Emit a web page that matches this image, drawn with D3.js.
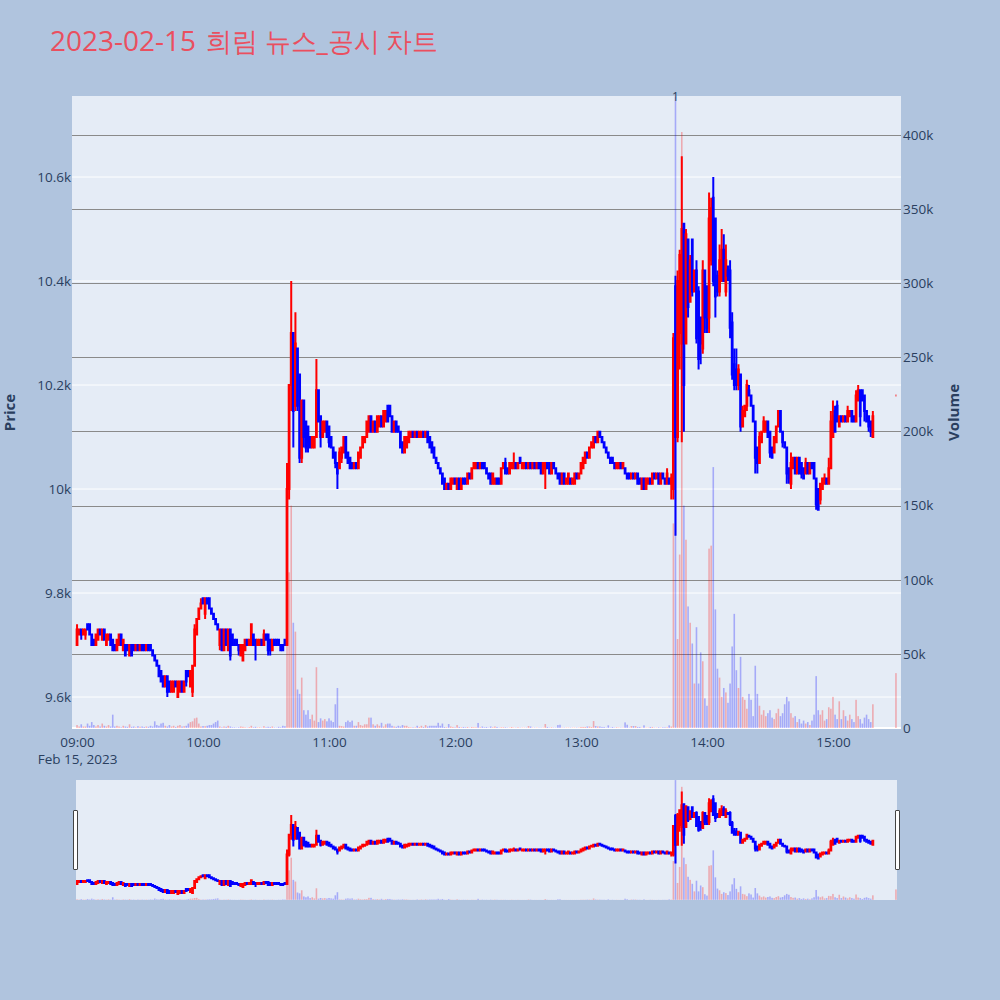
<!DOCTYPE html>
<html><head><meta charset="utf-8">
<script src="https://cdn.jsdelivr.net/npm/d3@7"></script>
<style>
body{margin:0;background:#B0C4DE;}
svg text{font-family:"Open Sans",verdana,arial,sans-serif;}
</style></head><body>
<svg id="chart" width="1000" height="1000"></svg>
<script>
// ---------------- DATA (1-minute candles, 09:00 .. 15:19, then 15:30 closing auction) ----------------
const titleDate = "2023-02-15";
const titleText = "희림 뉴스_공시 차트";
const sessionStart = "2023-02-15T09:00:00";
const closingAuctionTime = "2023-02-15T15:30:00";
const dateLabel = "Feb 15, 2023";
const newsMarks = [{time: "2023-02-15T13:45:00", label: "1"}];

const openP = [
9700,9720,9730,9720,9720,9740,9740,9720,9710,9700,
9710,9730,9710,9730,9700,9710,9720,9710,9700,9690,
9700,9720,9690,9700,9700,9680,9700,9700,9690,9700,
9690,9700,9700,9690,9700,9700,9690,9680,9670,9660,
9650,9640,9620,9640,9630,9610,9610,9630,9600,9610,
9630,9610,9650,9650,9620,9610,9660,9720,9750,9770,
9790,9760,9790,9790,9770,9760,9750,9740,9700,9730,
9690,9730,9690,9730,9720,9710,9710,9700,9680,9670,
9690,9710,9700,9700,9720,9710,9700,9700,9710,9700,
9720,9720,9710,9690,9710,9710,9710,9700,9700,9710,
9700,10000,10200,10300,10160,10270,10220,10060,10170,10130,
10120,10100,10080,10080,10100,10190,10140,10100,10110,10130,
10120,10100,10080,10070,10050,10040,10060,10070,10100,10070,
10060,10050,10040,10050,10040,10060,10080,10090,10100,10110,
10140,10110,10130,10110,10120,10140,10120,10130,10160,10160,
10140,10110,10130,10120,10110,10090,10070,10080,10090,10100,
10110,10100,10110,10100,10100,10110,10100,10110,10100,10090,
10080,10060,10050,10040,10030,10020,10000,10010,10000,10010,
10020,10000,10020,10000,10020,10020,10010,10030,10020,10040,
10040,10050,10040,10050,10050,10040,10030,10030,10010,10010,
10020,10020,10010,10040,10050,10040,10030,10040,10040,10050,
10040,10060,10040,10040,10050,10040,10050,10040,10050,10040,
10050,10050,10030,10040,10050,10050,10030,10050,10040,10030,
10030,10010,10030,10010,10010,10020,10010,10010,10030,10020,
10030,10040,10050,10070,10060,10080,10080,10100,10090,10110,
10100,10090,10080,10070,10060,10060,10050,10040,10040,10050,
10040,10040,10030,10030,10020,10030,10020,10030,10020,10000,
10020,10000,10010,10020,10010,10030,10020,10030,10010,10030,
10020,10010,10020,10010,10000,10390,10100,10300,10280,10510,
10280,10480,10360,10480,10380,10420,10380,10330,10270,10420,
10390,10330,10440,10560,10520,10410,10380,10400,10460,10380,
10420,10420,10320,10240,10230,10200,10220,10120,10140,10160,
10190,10180,10160,10130,10080,10050,10090,10110,10110,10130,
10110,10080,10070,10090,10120,10150,10110,10090,10080,10040,
10010,10040,10060,10030,10060,10050,10040,10030,10050,10030,
10050,10050,10020,10000,9980,10000,10010,10020,10010,10040,
10100,10150,10160,10120,10140,10130,10140,10130,10140,10150,
10140,10130,10170,10190,10190,10180,10150,10140,10130,10100,
10180];
const highP = [
9740,9730,9730,9730,9730,9740,9740,9720,9710,9720,
9730,9730,9730,9730,9720,9720,9720,9710,9700,9710,
9720,9720,9710,9700,9700,9700,9700,9700,9700,9700,
9700,9700,9700,9700,9700,9700,9690,9680,9670,9660,
9650,9640,9640,9640,9630,9630,9630,9630,9630,9630,
9630,9630,9650,9650,9650,9660,9740,9750,9770,9790,
9790,9790,9790,9790,9770,9760,9750,9740,9730,9730,
9730,9730,9730,9730,9720,9710,9710,9700,9700,9700,
9710,9710,9710,9740,9720,9710,9710,9710,9710,9730,
9720,9720,9710,9710,9710,9710,9710,9700,9700,9710,
10050,10200,10400,10300,10340,10270,10220,10170,10170,10130,
10120,10100,10100,10100,10250,10190,10140,10130,10130,10130,
10120,10100,10080,10070,10050,10080,10080,10100,10100,10070,
10060,10050,10050,10050,10070,10080,10100,10100,10130,10140,
10140,10130,10130,10140,10140,10140,10150,10150,10160,10160,
10140,10130,10130,10120,10110,10090,10100,10100,10110,10110,
10110,10110,10110,10110,10110,10110,10110,10110,10100,10090,
10080,10060,10050,10040,10030,10020,10010,10010,10020,10020,
10020,10020,10020,10020,10020,10020,10030,10030,10040,10050,
10050,10050,10050,10050,10050,10040,10030,10030,10030,10020,
10020,10020,10040,10050,10060,10040,10050,10050,10070,10050,
10050,10060,10050,10050,10050,10050,10050,10050,10050,10050,
10050,10050,10050,10050,10050,10050,10050,10050,10040,10030,
10030,10030,10030,10020,10030,10020,10020,10030,10030,10030,
10050,10060,10070,10070,10080,10090,10100,10100,10110,10110,
10100,10090,10080,10070,10060,10060,10050,10050,10050,10050,
10050,10040,10030,10030,10030,10030,10030,10030,10020,10020,
10020,10020,10020,10020,10030,10030,10030,10030,10030,10030,
10020,10040,10020,10030,10300,10410,10420,10460,10640,10510,
10500,10480,10450,10480,10420,10440,10390,10330,10440,10420,
10390,10570,10560,10600,10520,10420,10470,10500,10490,10470,
10430,10440,10340,10270,10270,10240,10220,10160,10160,10210,
10200,10180,10160,10130,10080,10110,10110,10140,10130,10130,
10110,10080,10100,10120,10150,10150,10110,10090,10080,10040,
10070,10060,10060,10060,10060,10050,10040,10060,10050,10050,
10050,10050,10020,10000,10010,10020,10030,10020,10060,10150,
10170,10160,10170,10140,10140,10140,10140,10160,10150,10150,
10140,10190,10200,10190,10190,10180,10150,10140,10130,10150,
10180];
const lowP = [
9700,9720,9710,9720,9710,9730,9720,9700,9700,9700,
9710,9720,9710,9710,9700,9710,9700,9690,9690,9690,
9700,9700,9690,9680,9690,9680,9680,9690,9690,9690,
9690,9690,9690,9690,9690,9690,9680,9670,9660,9640,
9630,9620,9620,9600,9610,9610,9610,9620,9600,9610,
9610,9610,9620,9640,9620,9600,9660,9720,9750,9770,
9780,9750,9780,9770,9760,9750,9740,9730,9690,9690,
9690,9700,9690,9670,9700,9700,9700,9680,9680,9670,
9690,9700,9700,9700,9700,9670,9700,9700,9700,9700,
9710,9680,9680,9690,9700,9700,9700,9690,9690,9700,
9700,9980,10150,10080,10150,10150,10050,10050,10080,10070,
10070,10080,10080,10080,10100,10130,10080,10100,10110,10100,
10080,10080,10060,10040,10000,10040,10050,10070,10060,10050,
10040,10040,10040,10040,10040,10060,10080,10090,10100,10110,
10110,10110,10110,10110,10120,10120,10120,10130,10130,10140,
10110,10110,10110,10110,10080,10070,10070,10080,10090,10100,
10100,10100,10100,10100,10100,10100,10100,10090,10080,10070,
10060,10050,10040,10030,10010,10000,10000,10000,10000,10010,
10010,10000,10000,10000,10010,10010,10010,10020,10020,10040,
10040,10040,10040,10040,10040,10030,10020,10010,10010,10010,
10010,10010,10010,10040,10030,10030,10030,10040,10040,10040,
10040,10050,10040,10040,10040,10040,10040,10040,10040,10040,
10040,10030,10030,10000,10040,10030,10030,10040,10030,10020,
10010,10010,10010,10010,10010,10010,10010,10010,10020,10020,
10030,10040,10050,10060,10060,10080,10080,10090,10090,10100,
10090,10080,10070,10060,10050,10050,10040,10040,10040,10040,
10040,10030,10020,10020,10020,10020,10020,10010,10010,10000,
10000,10000,10010,10010,10010,10020,10020,10010,10010,10020,
10010,10010,10010,9980,9980,9910,10090,10230,10090,10110,
10280,10330,10360,10370,10380,10280,10230,10240,10260,10300,
10300,10300,10430,10390,10330,10370,10370,10400,10400,10370,
10400,10290,10210,10190,10190,10190,10110,10120,10140,10150,
10180,10160,10130,10030,10030,10050,10090,10110,10110,10100,
10060,10060,10070,10090,10120,10110,10080,10080,10010,10010,
10000,10040,10030,10030,10030,10020,10020,10030,10030,10030,
10040,10020,9960,9960,9970,10000,10010,10010,10010,10040,
10100,10110,10130,10120,10130,10130,10130,10130,10140,10130,
10130,10130,10170,10120,10170,10130,10130,10110,10100,10100,
10180];
const closeP = [
9730,9730,9720,9730,9730,9730,9720,9700,9700,9720,
9730,9720,9730,9710,9720,9720,9700,9690,9690,9710,
9720,9700,9710,9680,9690,9700,9680,9690,9700,9690,
9700,9690,9690,9700,9690,9690,9680,9670,9660,9640,
9630,9620,9640,9610,9610,9630,9630,9620,9630,9630,
9610,9630,9630,9640,9650,9660,9730,9750,9770,9780,
9780,9790,9780,9770,9760,9750,9740,9730,9730,9690,
9730,9700,9730,9680,9700,9700,9700,9690,9700,9700,
9710,9700,9710,9740,9700,9700,9710,9710,9700,9720,
9710,9690,9690,9710,9700,9700,9700,9690,9690,9700,
10000,10200,10300,10150,10280,10160,10060,10170,10100,10080,
10090,10080,10100,10100,10190,10130,10100,10130,10130,10100,
10090,10080,10060,10050,10030,10070,10080,10100,10060,10050,
10040,10040,10050,10040,10070,10080,10100,10100,10130,10140,
10110,10130,10110,10140,10140,10120,10150,10150,10130,10140,
10110,10130,10110,10110,10080,10070,10100,10100,10110,10110,
10100,10110,10100,10110,10110,10100,10110,10090,10080,10070,
10060,10050,10040,10030,10010,10000,10010,10000,10020,10020,
10010,10020,10000,10020,10010,10010,10030,10020,10040,10050,
10050,10040,10050,10040,10040,10030,10020,10010,10030,10020,
10010,10010,10040,10050,10030,10030,10050,10050,10050,10040,
10050,10050,10050,10050,10040,10050,10040,10050,10040,10050,
10040,10030,10050,10050,10040,10030,10050,10040,10030,10020,
10010,10030,10010,10020,10030,10010,10020,10030,10020,10030,
10050,10060,10070,10060,10080,10090,10100,10090,10110,10100,
10090,10080,10070,10060,10050,10050,10040,10050,10050,10040,
10050,10030,10020,10020,10030,10020,10030,10010,10010,10020,
10000,10020,10020,10010,10030,10020,10030,10010,10030,10020,
10010,10030,10010,10020,10290,10100,10400,10450,10500,10200,
10490,10350,10440,10380,10420,10290,10250,10280,10420,10330,
10310,10520,10540,10400,10370,10380,10440,10460,10400,10440,
10410,10310,10220,10200,10200,10230,10120,10150,10160,10200,
10180,10160,10130,10060,10050,10100,10110,10130,10130,10100,
10070,10060,10100,10120,10150,10110,10090,10080,10030,10020,
10050,10060,10030,10060,10030,10030,10020,10050,10030,10050,
10040,10020,9970,9960,10010,10020,10020,10010,10040,10130,
10140,10110,10130,10140,10130,10140,10130,10150,10150,10130,
10130,10180,10190,10140,10170,10150,10130,10120,10110,10140,
10180];
const volume = [
2000,1000,2500,1000,1000,3000,1500,4000,2000,1000,
2000,1000,3000,1500,1000,2000,1000,9000,1000,1500,
1000,500,1500,1000,800,2500,800,1000,500,1200,
800,1000,700,1000,800,1500,1000,4500,2000,1500,
3000,3500,1500,1000,2000,1000,1500,700,1500,2000,
1000,1200,1500,3000,4000,4500,6500,7000,3000,1000,
1300,1200,1500,2000,2000,3000,4000,5000,1000,500,
1000,800,1500,1000,500,500,300,500,1000,800,
500,300,600,1500,500,800,400,500,300,1200,
500,800,600,1000,400,300,800,500,1500,1200,
90000,105000,150000,71000,65000,26000,23000,34000,12000,9000,
12000,6000,9000,5000,41000,4000,6500,5000,6000,4500,
6500,5000,4000,16000,27000,1500,1300,1000,4000,5000,
4000,5000,1500,1500,4000,2000,1500,2500,2500,7000,
7000,2500,1500,2500,1500,3500,1000,2500,3000,3000,
1500,1000,800,1500,1000,2000,1500,1500,700,500,
500,500,1500,700,1500,700,2000,1000,1500,1500,
1500,1500,3500,1500,3000,700,500,2700,1000,700,
500,2000,700,500,700,500,700,300,700,500,
500,3400,500,1000,500,700,300,1000,500,1000,
700,300,500,500,500,300,300,700,300,300,
500,300,300,300,300,1300,1000,300,300,300,
300,300,300,2700,700,300,500,300,300,2000,
2200,300,300,300,300,300,300,300,300,300,
700,700,700,1000,1000,700,4700,1300,1000,1000,
700,700,300,1800,300,700,300,500,300,300,
300,3800,2200,300,1300,1300,1300,700,700,300,
1800,300,300,700,700,300,300,500,300,500,
500,500,1800,1000,138000,426000,60000,117000,402000,150000,
127000,82000,71000,57000,30000,68000,30000,51000,45000,20000,
15000,121000,123000,176000,80000,40000,34000,21000,27000,24000,
17000,30000,55000,77000,39000,27000,48000,21000,19000,13000,
23000,19000,8000,42000,23000,15000,9000,12000,8000,10000,
12000,7000,6000,10000,13000,8000,10000,16000,21000,18000,
10000,7000,8000,4000,6000,3000,5000,3000,4000,2000,
5000,9000,35000,12000,9000,12000,5000,6000,14000,13000,
21000,9000,6000,18000,6000,12000,8000,5000,9000,6000,
4000,19000,8000,6000,3000,7000,9000,6000,4000,16000,
37000];
const priceTicks = [9600, 9800, 10000, 10200, 10400, 10600];
const volumeTicks = [0, 50000, 100000, 150000, 200000, 250000, 300000, 350000, 400000];
const hourTicks = ["09:00","10:00","11:00","12:00","13:00","14:00","15:00"];

// ---------------- LAYOUT ----------------
const W = 1000, H = 1000;
const plot = {l: 72, r: 901, t: 96, b: 729};
const slider = {l: 76, r: 897, t: 780, b: 900};
const UP = "#FF0000", DOWN = "#0000FF";
const priceDomain = [9538.5, 10755.8];
const volDomain = [-675, 426300];
const tickColor = "#2a3f5f";
const tickSize = 13.5;

const parse = d3.timeParse("%Y-%m-%dT%H:%M:%S");
const t0 = parse(sessionStart);
const tClose = parse(closingAuctionTime);
const times = openP.map((_, i) => i < openP.length - 1 ? d3.timeMinute.offset(t0, i) : tClose);
const data = times.map((t, i) => ({t, o: openP[i], h: highP[i], l: lowP[i], c: closeP[i], v: volume[i]}));
data.forEach((d, i) => {
  if (d.c > d.o) d.up = true;
  else if (d.c < d.o) d.up = false;
  else d.up = i > 0 ? (d.c > data[i-1].c ? true : (d.c < data[i-1].c ? false : data[i-1].up)) : true;
});

const svg = d3.select("#chart");
svg.append("rect").attr("width", W).attr("height", H).attr("fill", "#B0C4DE");

// title
const title = svg.append("text").attr("x", 50).attr("y", 51).attr("font-size", 28).attr("fill", "#EA4F5F");
title.append("tspan").text(titleDate);
title.append("tspan").attr("dx", 10).attr("textLength", 232).attr("lengthAdjust", "spacingAndGlyphs")
  .attr("font-size", 27).text(titleText);

const x = d3.scaleTime()
  .domain([d3.timeSecond.offset(t0, -144), d3.timeSecond.offset(tClose, 144)])
  .range([plot.l, plot.r]);
const yP = d3.scaleLinear().domain(priceDomain).range([plot.b, plot.t]);
const yV = d3.scaleLinear().domain(volDomain).range([plot.b, plot.t]);

// plot background
svg.append("rect").attr("x", plot.l).attr("y", plot.t)
  .attr("width", plot.r - plot.l).attr("height", plot.b - plot.t).attr("fill", "#E5ECF6");

// grid lines
const grid = svg.append("g");
grid.selectAll(".pg").data(priceTicks).join("line")
  .attr("x1", plot.l).attr("x2", plot.r)
  .attr("y1", d => yP(d)).attr("y2", d => yP(d))
  .attr("stroke", "#fff").attr("stroke-width", 1);
grid.selectAll(".vg").data(volumeTicks.filter(v => v > 0)).join("line")
  .attr("x1", plot.l).attr("x2", plot.r)
  .attr("y1", d => Math.round(yV(d)) + 0.5).attr("y2", d => Math.round(yV(d)) + 0.5)
  .attr("stroke", "#8a8a8a").attr("stroke-width", 1);
grid.append("line").attr("x1", plot.l).attr("x2", plot.r)
  .attr("y1", yV(0)).attr("y2", yV(0)).attr("stroke", "#fff").attr("stroke-width", 2);

// clip paths
const defs = svg.append("defs");
defs.append("clipPath").attr("id", "clipMain").append("rect")
  .attr("x", plot.l).attr("y", plot.t).attr("width", plot.r - plot.l).attr("height", plot.b - plot.t);
defs.append("clipPath").attr("id", "clipSlider").append("rect")
  .attr("x", slider.l).attr("y", slider.t).attr("width", slider.r - slider.l).attr("height", slider.b - slider.t);

function candlePath(d, xs, ys) {
  const cx = xs(d.t), bw = 0.8;
  const yo = ys(d.o), yc = ys(d.c), yh = ys(d.h), yl = ys(d.l);
  const top = Math.min(yo, yc), bot = Math.max(yo, yc);
  return `M${cx - bw/2},${top}H${cx + bw/2}V${bot}H${cx - bw/2}Z` +
         `M${cx},${top}V${yh}M${cx},${bot}V${yl}`;
}

function drawSeries(g, xs, ys, yv) {
  g.selectAll("path.candle").data(data).join("path")
    .attr("class", "candle")
    .attr("d", d => candlePath(d, xs, ys))
    .attr("fill", d => d.up ? UP : DOWN)
    .attr("stroke", d => d.up ? UP : DOWN)
    .attr("stroke-width", 2);
  g.selectAll("rect.vol").data(data).join("rect")
    .attr("class", "vol")
    .attr("x", d => xs(d.t) - 0.8).attr("width", 1.6)
    .attr("y", d => yv(d.v)).attr("height", d => Math.max(0, yv(0) - yv(d.v)))
    .attr("fill", d => d.up ? UP : DOWN).attr("fill-opacity", 0.28);
}

const main = svg.append("g").attr("clip-path", "url(#clipMain)");
drawSeries(main, x, yP, yV);

// news annotation
svg.selectAll("text.news").data(newsMarks).join("text")
  .attr("class", "news")
  .attr("x", d => x(parse(d.time))).attr("y", plot.t + 5)
  .attr("text-anchor", "middle").attr("font-size", 12).attr("fill", tickColor)
  .text(d => d.label);

// axes
const xAxis = d3.axisBottom(x)
  .tickValues(hourTicks.map(h => parse("2023-02-15T" + h + ":00")))
  .tickFormat(d3.timeFormat("%H:%M")).tickSize(0).tickPadding(8);
const gx = svg.append("g").attr("transform", `translate(0,${plot.b})`).call(xAxis);
gx.select(".domain").remove();
gx.selectAll("text").attr("font-size", tickSize).attr("fill", tickColor).attr("font-family", "Open Sans");
// first tick carries the date as a second line (as one multi-line label)
const firstLabel = gx.select(".tick text");
firstLabel.append("tspan").attr("x", 0).attr("dy", "1.3em").text(dateLabel);

const yAxisL = d3.axisLeft(yP).tickValues(priceTicks).tickFormat(d3.format("~s")).tickSize(0).tickPadding(1);
const gl = svg.append("g").attr("transform", `translate(${plot.l},0)`).call(yAxisL);
gl.select(".domain").remove();
gl.selectAll("text").attr("font-size", tickSize).attr("fill", tickColor).attr("font-family", "Open Sans");

const yAxisR = d3.axisRight(yV).tickValues(volumeTicks).tickFormat(d3.format("~s")).tickSize(0).tickPadding(2);
const gr = svg.append("g").attr("transform", `translate(${plot.r},0)`).call(yAxisR);
gr.select(".domain").remove();
gr.selectAll("text").attr("font-size", tickSize).attr("fill", tickColor).attr("font-family", "Open Sans");

// axis titles
const midY = (plot.t + plot.b) / 2;
svg.append("text").attr("transform", `translate(15,${midY}) rotate(-90)`)
  .attr("text-anchor", "middle").attr("font-size", 15).attr("font-weight", "bold")
  .attr("fill", tickColor).text("Price");
svg.append("text").attr("transform", `translate(959,${midY}) rotate(-90)`)
  .attr("text-anchor", "middle").attr("font-size", 15).attr("font-weight", "bold")
  .attr("fill", tickColor).text("Volume");

// range slider
svg.append("rect").attr("x", slider.l).attr("y", slider.t)
  .attr("width", slider.r - slider.l).attr("height", slider.b - slider.t).attr("fill", "#E5ECF6");
const xs = d3.scaleTime()
  .domain([d3.timeSecond.offset(t0, -30), d3.timeSecond.offset(tClose, 30)])
  .range([slider.l, slider.r]);
const yPs = d3.scaleLinear().domain(priceDomain).range([slider.b, slider.t]);
const yVs = d3.scaleLinear().domain(volDomain).range([slider.b, slider.t]);
const sg = svg.append("g").attr("clip-path", "url(#clipSlider)");
drawSeries(sg, xs, yPs, yVs);
[slider.l - 2.5, slider.r - 1.5].forEach(gx0 => {
  svg.append("rect").attr("x", gx0).attr("y", 810.5).attr("width", 4).attr("height", 59)
    .attr("fill", "#fff").attr("stroke", "#444").attr("stroke-width", 1).attr("rx", 0.5);
});
</script>
</body></html>
